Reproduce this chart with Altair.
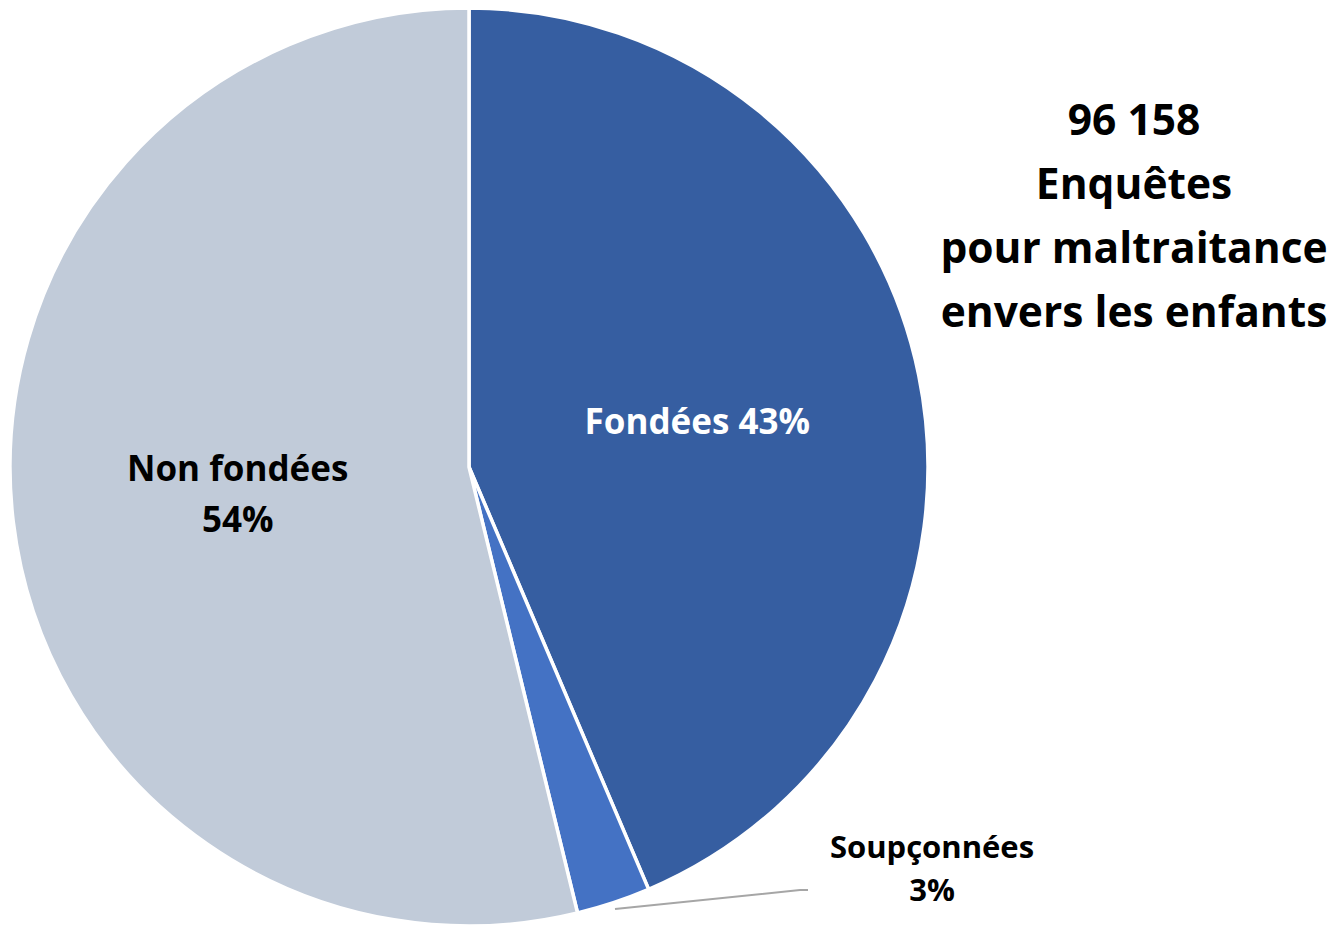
import altair as alt
import pandas as pd

categories = ["Fondées", "Soupçonnées", "Non fondées"]
values = [43.6, 2.6, 53.8]
label_in_a = ["Fondées 43%", "", ""]
label_in_b = ["", "", "Non fondées\n54%"]
colors = ["#365ea1", "#4472c4", "#c1cbd9"]

outside_label = "Soupçonnées\n3%"
title_text = "96 158\nEnquêtes\npour maltraitance\nenvers les enfants"

FONT = "Open Sans"
CX, CY, R = 461, 459, 459

df = pd.DataFrame({
    "cat": categories,
    "val": values,
    "order": list(range(len(categories))),
    "la": label_in_a,
    "lb": label_in_b,
})

base = alt.Chart(df).encode(
    theta=alt.Theta("val:Q", stack=True),
    order=alt.Order("order:Q", sort="ascending"),
)

pie = base.mark_arc(stroke="white", strokeWidth=3.5).encode(
    color=alt.Color("cat:N", scale=alt.Scale(domain=categories, range=colors), legend=None),
    x=alt.value(CX), y=alt.value(CY), radius=alt.value(R),
)

labels_a = base.mark_text(font=FONT, fontWeight="bold", fontSize=35, color="white",
                          baseline="middle", align="center", dy=3).encode(
    text="la:N",
    x=alt.value(CX), y=alt.value(CY), radius=alt.value(233),
)

labels_b = base.mark_text(font=FONT, fontWeight="bold", fontSize=35, color="black",
                          lineBreak="\n", baseline="middle", align="center",
                          lineHeight=51, dy=-25).encode(
    text="lb:N",
    x=alt.value(CX), y=alt.value(CY), radius=alt.value(233),
)

lead_df = pd.DataFrame({"x": [607, 792, 800], "y": [901, 882, 882], "o": [0, 1, 2]})
leader = alt.Chart(lead_df).mark_line(color="#a6a6a6", strokeWidth=2).encode(
    x=alt.X("x:Q", scale=alt.Scale(domain=[0, 1325], range=[0, 1325]), axis=None),
    y=alt.Y("y:Q", scale=alt.Scale(domain=[0, 917], range=[0, 917]), axis=None),
    order="o:Q",
)

out_lbl = alt.Chart(pd.DataFrame({"t": [outside_label]})).mark_text(
    font=FONT, fontWeight="bold", fontSize=31, lineBreak="\n", align="center",
    baseline="alphabetic", lineHeight=43, color="black",
).encode(text="t:N", x=alt.value(924), y=alt.value(850))

title = alt.Chart(pd.DataFrame({"t": [title_text]})).mark_text(
    font=FONT, fontWeight="bold", fontSize=42.5, lineBreak="\n", align="center",
    baseline="alphabetic", lineHeight=64, color="black",
).encode(text="t:N", x=alt.value(1126), y=alt.value(127))

chart = alt.layer(pie, labels_a, labels_b, leader, out_lbl, title).resolve_scale(
    color="independent"
).properties(
    width=1325, height=917, padding=0, background="white",
    autosize=alt.AutoSizeParams(type="none")
).configure_view(stroke=None)

chart.save("out.html", embed_options={"renderer": "svg", "actions": False})
